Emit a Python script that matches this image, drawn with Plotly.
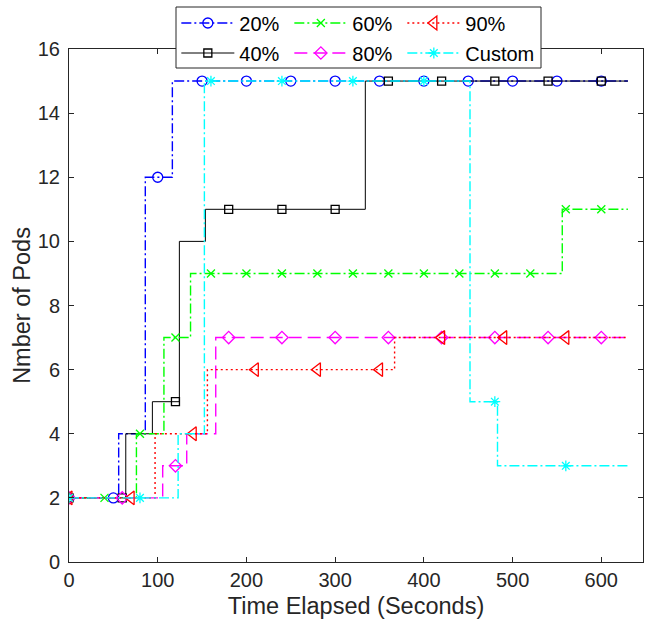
import plotly.graph_objects as go

# ---------------- data ----------------
END_T = 630

# step-change times and the level that starts at each time
t20 = [0, 56, 86, 116.5]
v20 = [2, 4, 12, 15]
t40 = [0, 64, 94, 124.4, 153.7, 334]
v40 = [2, 4, 5, 10, 11, 15]
t60 = [0, 76, 107, 137, 556]
v60 = [2, 4, 7, 9, 11]
t80 = [0, 105.6, 132.7, 165.4]
v80 = [2, 3, 4, 7]
t90 = [0, 97, 156, 367]
v90 = [2, 4, 6, 7]
tcu = [0, 123, 152.6, 452, 483]
vcu = [2, 4, 15, 5, 3]

# marker samples
m20_x = [0, 50, 100, 150, 200, 250, 300, 350, 400, 450, 500, 550, 600]
m20_y = [2, 2, 12, 15, 15, 15, 15, 15, 15, 15, 15, 15, 15]
m40_x = [0, 60, 120, 180, 240, 300, 360, 420, 480, 540, 600]
m40_y = [2, 2, 5, 11, 11, 11, 15, 15, 15, 15, 15]
m60_x = [0, 40, 80, 120, 160, 200, 240, 280, 320, 360, 400, 440, 480, 520, 560, 600]
m60_y = [2, 2, 4, 7, 9, 9, 9, 9, 9, 9, 9, 9, 9, 9, 11, 11]
m80_x = [0, 60, 120, 180, 240, 300, 360, 420, 480, 540, 600]
m80_y = [2, 2, 3, 7, 7, 7, 7, 7, 7, 7, 7]
m90_x = [0, 70, 140, 210, 280, 350, 420, 490, 560]
m90_y = [2, 2, 4, 6, 6, 6, 7, 7, 7]
mcu_x = [0, 80, 160, 240, 320, 400, 480, 560]
mcu_y = [2, 2, 15, 15, 15, 15, 5, 3]

x_ticks = [0, 100, 200, 300, 400, 500, 600]
y_ticks = [0, 2, 4, 6, 8, 10, 12, 14, 16]

# ---------------- styles ----------------
series = [
    dict(name="20%", t=t20, v=v20, mx=m20_x, my=m20_y, color="#0000FF",
         dash="10px,3px,2px,3px", width=1.4, symbol="circle-open", size=10, legend="legend"),
    dict(name="40%", t=t40, v=v40, mx=m40_x, my=m40_y, color="#000000",
         dash="solid", width=1.0, symbol="square-open", size=8, legend="legend2"),
    dict(name="60%", t=t60, v=v60, mx=m60_x, my=m60_y, color="#00FF00",
         dash="10px,3px,2px,3px", width=1.4, symbol="x-thin-open", size=8, legend="legend"),
    dict(name="80%", t=t80, v=v80, mx=m80_x, my=m80_y, color="#FF00FF",
         dash="13px,6px", width=1.4, symbol="diamond-open", size=9.5, legend="legend2"),
    dict(name="90%", t=t90, v=v90, mx=m90_x, my=m90_y, color="#FF0000",
         dash="2px,3px", width=1.4, symbol="triangle-left-open", size=12, legend="legend"),
    dict(name="Custom", t=tcu, v=vcu, mx=mcu_x, my=mcu_y, color="#00FFFF",
         dash="10px,3px,2px,3px", width=1.4, symbol="asterisk-open", size=9, legend="legend2"),
]

fig = go.Figure()
for s in series:
    xs = list(s["t"]) + [END_T]
    ys = list(s["v"]) + [s["v"][-1]]
    fig.add_trace(go.Scatter(
        x=xs, y=ys, mode="lines", line=dict(color=s["color"], width=s["width"], dash=s["dash"], shape="hv"),
        showlegend=False, hoverinfo="skip"))
    fig.add_trace(go.Scatter(
        x=s["mx"], y=s["my"], mode="markers",
        marker=dict(symbol=s["symbol"], size=s["size"], color=s["color"],
                    line=dict(color=s["color"], width=1.3)),
        showlegend=False))

# legend entries (row 1 in legend, row 2 in legend2)
for s in series:
    fig.add_trace(go.Scatter(
        x=[None], y=[None], mode="lines+markers", name=s["name"],
        line=dict(color=s["color"], width=s["width"], dash=s["dash"]),
        marker=dict(symbol=s["symbol"], size=s["size"], color=s["color"],
                    line=dict(color=s["color"], width=1.3)),
        legend=s["legend"]))
# empty spacer entry so the last label of row 2 is not clipped
fig.add_trace(go.Scatter(x=[None], y=[None], mode="lines", name=" ",
                         line=dict(color="rgba(0,0,0,0)", width=0), legend="legend2"))

font_family = "Liberation Sans, Arial, sans-serif"
axis_common = dict(
    showline=True, linecolor="#262626", linewidth=1, mirror="ticks",
    ticks="inside", ticklen=5, tickcolor="#262626", tickwidth=1,
    showgrid=False, zeroline=False,
    tickfont=dict(family=font_family, size=20, color="#262626"),
)

leg_common = dict(
    orientation="h", bgcolor="rgba(0,0,0,0)", borderwidth=0,
    font=dict(family=font_family, size=20, color="#000000"),
    itemwidth=53, entrywidth=45, entrywidthmode="pixels",
    xanchor="left", yanchor="middle", itemclick=False, itemdoubleclick=False,
)

fig.update_layout(
    width=646, height=634,
    margin=dict(l=69, r=3, t=49, b=72),
    paper_bgcolor="white", plot_bgcolor="white",
    xaxis=dict(range=[0, 647], tickvals=x_ticks, ticktext=[str(v) for v in x_ticks],
               title=dict(text="Time Elapsed (Seconds)", standoff=7,
                          font=dict(family=font_family, size=23.5, color="#262626")),
               **axis_common),
    yaxis=dict(range=[0, 16], tickvals=y_ticks, ticktext=[str(v) for v in y_ticks],
               title=dict(text="Nmber of Pods", standoff=0,
                          font=dict(family=font_family, size=23.5, color="#262626")),
               ticklabelstandoff=4,
               **axis_common),
    legend=dict(x=0.187, y=1.0507, **leg_common),
    legend2=dict(x=0.187, y=0.9922, **leg_common),
    shapes=[dict(type="rect", xref="paper", yref="paper",
                 x0=(176 - 69) / 574, x1=(541 - 69) / 574,
                 y0=(562 - 68) / 513, y1=(562 - 7) / 513,
                 line=dict(color="#262626", width=1), fillcolor="white", layer="above")],
    showlegend=True,
)

fig.write_html("out.html")
